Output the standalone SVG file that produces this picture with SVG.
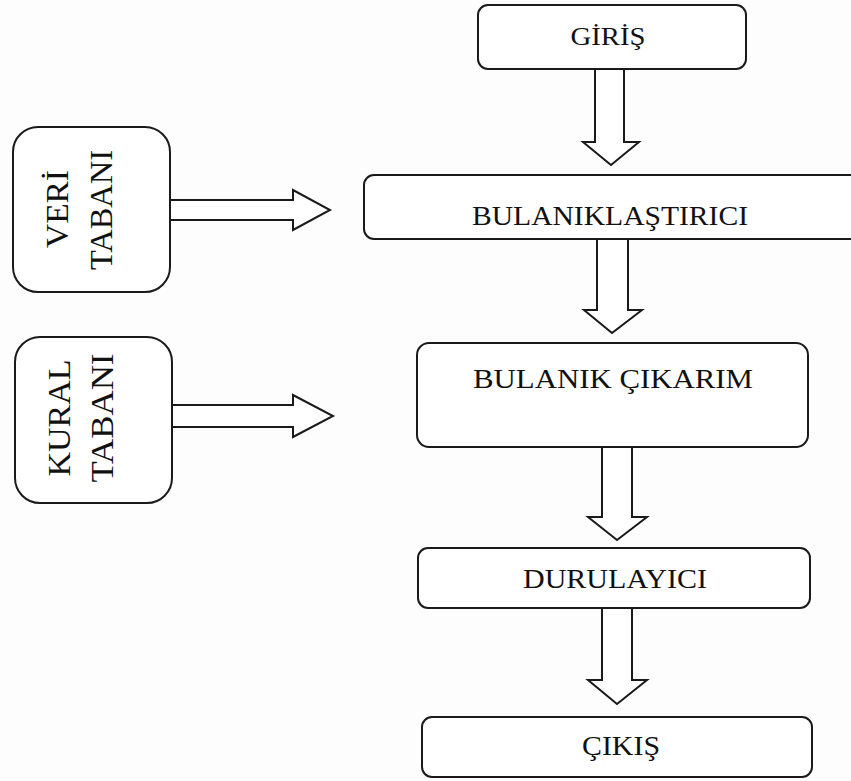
<svg xmlns="http://www.w3.org/2000/svg" width="851" height="781" viewBox="0 0 851 781">
<style>
.box{fill:#fff;stroke:#1a1a1a;stroke-width:2}
.arr{fill:#fff;stroke:#1a1a1a;stroke-width:2;stroke-linejoin:miter}
.lbl{font-family:"Liberation Serif","DejaVu Serif",serif;fill:#111;text-anchor:middle}
.vlbl{font-family:"Liberation Serif","DejaVu Serif",serif;fill:#111;text-anchor:middle;font-size:31px}
</style>
<rect width="851" height="781" fill="#fdfdfd"/>
<g id="connectors">
<polygon class="arr" points="595,69 624,69 624,142 639,142 611,165 583,142 595,142"/>
<polygon class="arr" points="597,239 628,239 628,310 642,310 612,333 584,310 597,310"/>
<polygon class="arr" points="602,447 632,447 632,517 647,517 617,540 588,517 602,517"/>
<polygon class="arr" points="602,608 632,608 632,680 647,680 617,704 588,680 602,680"/>
<polygon class="arr" points="170,200 293,200 293,190 330,210 293,230 293,220 170,220"/>
<polygon class="arr" points="172,405 293,405 293,395 333,416 293,437 293,427 172,427"/>
</g>
<g id="giris">
<rect class="box" x="478" y="5" width="268" height="64" rx="10"/>
<text class="lbl" x="608" y="45" font-size="26" textLength="75" lengthAdjust="spacingAndGlyphs">GİRİŞ</text>
</g>
<g id="bulaniklastirici">
<rect class="box" x="364" y="175" width="500" height="64" rx="10"/>
<text class="lbl" x="610" y="225" font-size="27" textLength="276" lengthAdjust="spacingAndGlyphs">BULANIKLAŞTIRICI</text>
</g>
<g id="bulanik-cikarim">
<rect class="box" x="417" y="343" width="391" height="104" rx="12"/>
<text class="lbl" x="613" y="388" font-size="27" textLength="280" lengthAdjust="spacingAndGlyphs">BULANIK  ÇIKARIM</text>
</g>
<g id="durulayici">
<rect class="box" x="418" y="548" width="392" height="60" rx="10"/>
<text class="lbl" x="615" y="588" font-size="27" textLength="184" lengthAdjust="spacingAndGlyphs">DURULAYICI</text>
</g>
<g id="cikis">
<rect class="box" x="422" y="717" width="390" height="60" rx="10"/>
<text class="lbl" x="621" y="755" font-size="27" textLength="78" lengthAdjust="spacingAndGlyphs">ÇIKIŞ</text>
</g>
<g id="veri-tabani">
<rect class="box" x="13" y="127" width="157" height="165" rx="25"/>
<text class="vlbl" transform="translate(68,209) rotate(-90)" textLength="78" lengthAdjust="spacingAndGlyphs">VERİ</text>
<text class="vlbl" transform="translate(112,210) rotate(-90)" textLength="120" lengthAdjust="spacingAndGlyphs">TABANI</text>
</g>
<g id="kural-tabani">
<rect class="box" x="15" y="337" width="157" height="166" rx="25"/>
<text class="vlbl" transform="translate(70,418) rotate(-90)" textLength="117" lengthAdjust="spacingAndGlyphs">KURAL</text>
<text class="vlbl" transform="translate(113,418) rotate(-90)" textLength="129" lengthAdjust="spacingAndGlyphs">TABANI</text>
</g>
</svg>
